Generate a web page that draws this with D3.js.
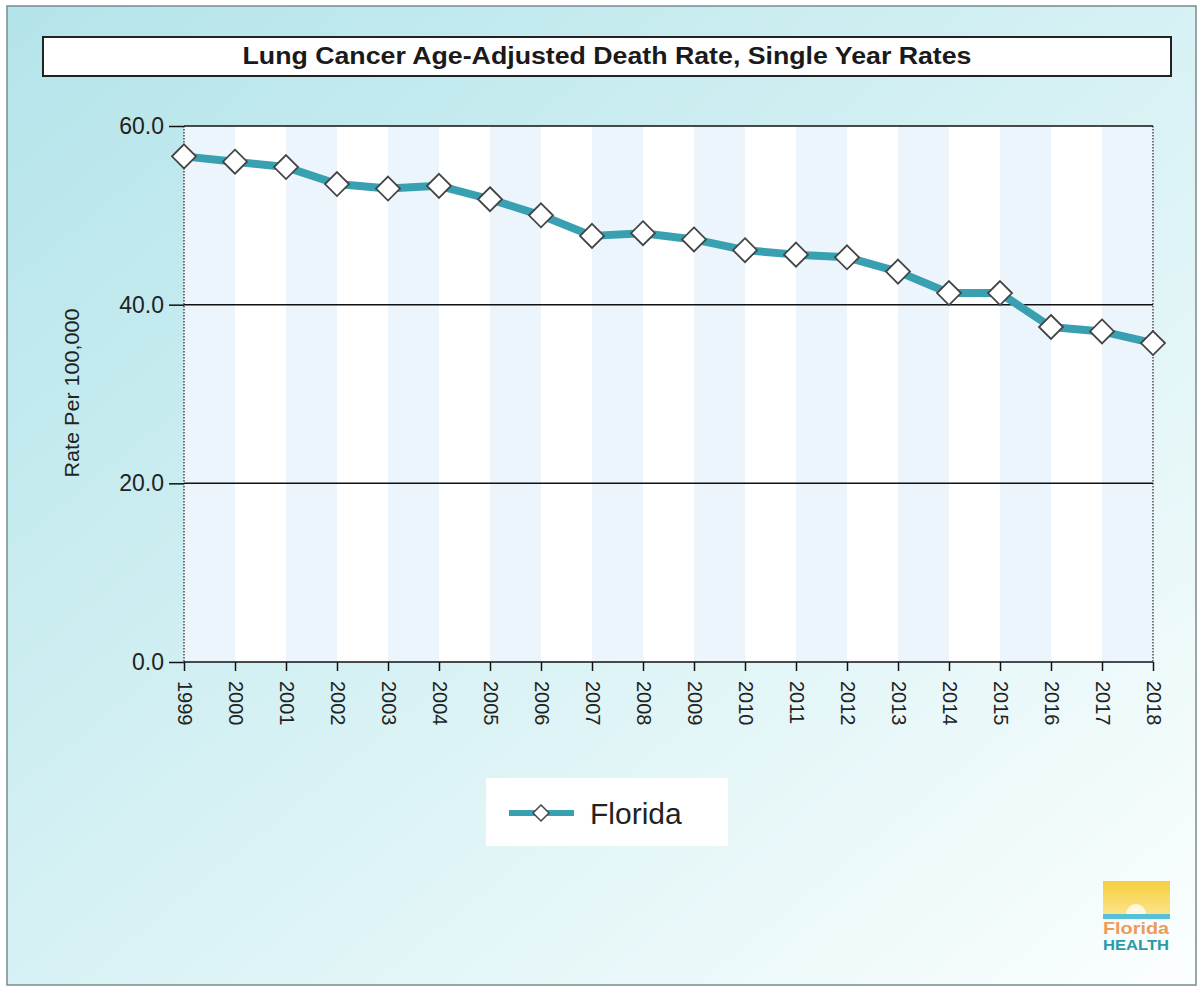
<!DOCTYPE html>
<html>
<head>
<meta charset="utf-8">
<script src="https://cdn.jsdelivr.net/npm/d3@7"></script>
<style>
  html, body { margin: 0; padding: 0; background: #fff; }
  svg { display: block; }
  text { font-family: Arial, "Liberation Sans", sans-serif; }
</style>
</head>
<body>
<svg id="chart" width="1202" height="987"></svg>
<script>
// ---- data ----
const years = ["1999","2000","2001","2002","2003","2004","2005","2006","2007","2008",
               "2009","2010","2011","2012","2013","2014","2015","2016","2017","2018"];
const rates = [56.6, 56.0, 55.4, 53.5, 53.0, 53.3, 51.8, 50.0, 47.7, 48.0,
               47.3, 46.1, 45.6, 45.3, 43.7, 41.3, 41.3, 37.5, 37.0, 35.7];
const yTicks = [0, 20, 40, 60];
const seriesName = "Florida";
const titleText = "Lung Cancer Age-Adjusted Death Rate, Single Year Rates";
const yAxisTitle = "Rate Per 100,000";

const svg = d3.select("#chart");
const defs = svg.append("defs");

// background gradient
const bg = defs.append("linearGradient").attr("id", "bg")
  .attr("x1", "0%").attr("y1", "0%").attr("x2", "100%").attr("y2", "100%");
bg.append("stop").attr("offset", "0%").attr("stop-color", "#b3e4ea");
bg.append("stop").attr("offset", "45%").attr("stop-color", "#d3f0f3");
bg.append("stop").attr("offset", "100%").attr("stop-color", "#fbfefe");

svg.append("rect").attr("x", 0).attr("y", 0).attr("width", 1202).attr("height", 987).attr("fill", "#fff");
svg.append("rect").attr("x", 7).attr("y", 6).attr("width", 1189).attr("height", 979)
  .attr("fill", "url(#bg)").attr("stroke", "#7a8a8e").attr("stroke-width", 1.5);

// title box
svg.append("rect").attr("x", 43).attr("y", 37).attr("width", 1128).attr("height", 39)
  .attr("fill", "#fff").attr("stroke", "#222").attr("stroke-width", 2);
svg.append("text").attr("x", 607).attr("y", 64).attr("text-anchor", "middle")
  .attr("font-size", 23).attr("font-weight", "bold").attr("fill", "#1a1a1a")
  .attr("textLength", 729).attr("lengthAdjust", "spacingAndGlyphs")
  .text(titleText);

// scales
const x0 = 184, x1 = 1153, yTop = 126, yBot = 662;
const x = d3.scalePoint().domain(years).range([x0, x1]);
const y = d3.scaleLinear().domain([0, 60]).range([yBot, yTop]);
const step = x.step();

// plot background stripes
const plot = svg.append("g");
plot.append("rect").attr("x", x0).attr("y", yTop).attr("width", x1 - x0).attr("height", yBot - yTop).attr("fill", "#fff");
plot.selectAll("rect.stripe").data(years.slice(0, -1)).join("rect")
  .attr("class", "stripe")
  .attr("x", d => x(d)).attr("y", yTop)
  .attr("width", step).attr("height", yBot - yTop)
  .attr("fill", (d, i) => i % 2 === 0 ? "#edf5fc" : "#ffffff");

// dotted vertical borders
[x0, x1].forEach(xx => {
  plot.append("line").attr("x1", xx).attr("x2", xx).attr("y1", yTop).attr("y2", yBot)
    .attr("stroke", "#222").attr("stroke-width", 1.2).attr("stroke-dasharray", "1.5,1.5");
});

// gridlines
plot.selectAll("line.grid").data(yTicks).join("line")
  .attr("class", "grid")
  .attr("x1", x0).attr("x2", x1).attr("y1", d => y(d)).attr("y2", d => y(d))
  .attr("stroke", "#111").attr("stroke-width", 1.5);

// y axis
const yAxis = svg.append("g").attr("transform", `translate(${x0},0)`)
  .call(d3.axisLeft(y).tickValues(yTicks).tickFormat(d3.format(".1f")).tickSize(15).tickPadding(5));
yAxis.select(".domain").remove();
yAxis.selectAll(".tick line").attr("stroke", "#111").attr("stroke-width", 1.5);
yAxis.selectAll(".tick text").attr("font-size", 23).attr("fill", "#222")
  .attr("font-family", "Arial, 'Liberation Sans', sans-serif");

// x axis
const xAxis = svg.append("g").attr("transform", `translate(0,${yBot})`)
  .call(d3.axisBottom(x).tickSize(9).tickPadding(0));
xAxis.select(".domain").remove();
xAxis.selectAll(".tick line").attr("stroke", "#111").attr("stroke-width", 1.5);
xAxis.selectAll(".tick text")
  .attr("font-size", 20).attr("fill", "#222")
  .attr("font-family", "Arial, 'Liberation Sans', sans-serif")
  .attr("text-anchor", "start")
  .attr("y", 0).attr("x", 0).attr("dy", "0.35em")
  .attr("transform", "translate(0,19) rotate(90)");

// y axis title
svg.append("text").attr("transform", "translate(79,393) rotate(-90)")
  .attr("text-anchor", "middle").attr("font-size", 20).attr("fill", "#222")
  .attr("textLength", 169).attr("lengthAdjust", "spacingAndGlyphs")
  .text(yAxisTitle);

// line
const data = years.map((yr, i) => ({ yr, v: rates[i] }));
const lineGen = d3.line().x(d => x(d.yr)).y(d => y(d.v));
svg.append("path").datum(data).attr("d", lineGen)
  .attr("fill", "none").attr("stroke", "#39a0b1").attr("stroke-width", 8)
  .attr("stroke-linejoin", "round");

// markers
const diamond = (cx, cy, r) => `M${cx},${cy - r}L${cx + r},${cy}L${cx},${cy + r}L${cx - r},${cy}Z`;
svg.selectAll("path.mk").data(data).join("path")
  .attr("class", "mk")
  .attr("d", d => diamond(x(d.yr), y(d.v), 12))
  .attr("fill", "#fff").attr("stroke", "#444").attr("stroke-width", 1.8);

// legend
const lg = svg.append("g");
lg.append("rect").attr("x", 486).attr("y", 778).attr("width", 242).attr("height", 68).attr("fill", "#fff");
lg.append("line").attr("x1", 509).attr("x2", 574).attr("y1", 813).attr("y2", 813)
  .attr("stroke", "#39a0b1").attr("stroke-width", 6);
lg.append("path").attr("d", diamond(541, 813, 8)).attr("fill", "#fff").attr("stroke", "#444").attr("stroke-width", 1.5);
lg.append("text").attr("x", 590).attr("y", 824).attr("font-size", 30).attr("fill", "#222").text(seriesName);

// logo
const logo = svg.append("g");
const lgr = defs.append("linearGradient").attr("id", "sun").attr("x1", "0").attr("y1", "0").attr("x2", "0").attr("y2", "1");
lgr.append("stop").attr("offset", "0%").attr("stop-color", "#f6cf3c");
lgr.append("stop").attr("offset", "100%").attr("stop-color", "#fbe38a");
logo.append("rect").attr("x", 1103).attr("y", 881).attr("width", 67).attr("height", 33).attr("fill", "url(#sun)");
logo.append("path").attr("d", "M1126,914 A10,10 0 0 1 1146,914 Z").attr("fill", "#fff8e0");
logo.append("rect").attr("x", 1103).attr("y", 914).attr("width", 67).attr("height", 5).attr("fill", "#56c1d6");
logo.append("text").attr("x", 1136).attr("y", 934).attr("text-anchor", "middle")
  .attr("font-size", 17).attr("font-weight", "bold").attr("fill", "#ef9a56").attr("textLength", 66).attr("lengthAdjust", "spacingAndGlyphs").text("Florida");
logo.append("text").attr("x", 1136).attr("y", 950).attr("text-anchor", "middle")
  .attr("font-size", 15).attr("font-weight", "bold").attr("fill", "#2b9aa8").attr("textLength", 66).attr("lengthAdjust", "spacingAndGlyphs").text("HEALTH");
</script>
</body>
</html>
